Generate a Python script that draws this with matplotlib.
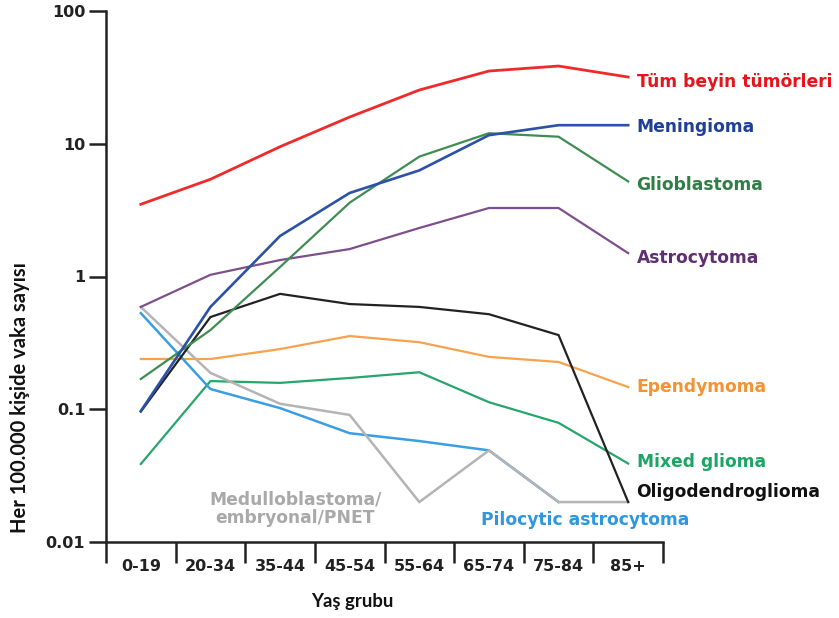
import numpy as np
import matplotlib
matplotlib.use("Agg")
import matplotlib.pyplot as plt
from matplotlib.ticker import FixedLocator, NullFormatter

age_groups = ["0-19", "20-34", "35-44", "45-54", "55-64", "65-74", "75-84", "85+"]

all_brain = [3.5, 5.4, 9.5, 15.9, 25.4, 35.3, 38.5, 31.8]
meningioma = [0.097, 0.59, 2.02, 4.26, 6.3, 11.6, 13.8, 13.8]
glioblastoma = [0.169, 0.395, 1.18, 3.6, 8.0, 12.0, 11.3, 5.2]
astrocytoma = [0.59, 1.03, 1.33, 1.61, 2.32, 3.28, 3.28, 1.50]
oligodendroglioma = [0.096, 0.495, 0.74, 0.62, 0.59, 0.52, 0.362, 0.02]
ependymoma = [0.239, 0.239, 0.284, 0.356, 0.32, 0.248, 0.227, 0.147]
mixed_glioma = [0.0387, 0.163, 0.158, 0.172, 0.19, 0.113, 0.079, 0.039]
pilocytic = [0.53, 0.142, 0.102, 0.066, 0.0576, 0.049, 0.02, np.nan]
medulloblastoma = [0.59, 0.188, 0.11, 0.0906, 0.02, 0.049, 0.02, 0.02]

# drawing order: back to front
series = [
    (ependymoma, "#f7a24c", 1.6),
    (mixed_glioma, "#27a56c", 1.6),
    (pilocytic, "#3b9ee2", 1.8),
    (medulloblastoma, "#b4b4b4", 1.8),
    (oligodendroglioma, "#222222", 1.6),
    (astrocytoma, "#7d4f8c", 1.6),
    (glioblastoma, "#3f8d52", 1.6),
    (meningioma, "#2c51a8", 1.9),
    (all_brain, "#f02a2a", 2.0),
]

# series names placed to the right of the line ends
labels = [
    ("Tüm beyin tümörleri", "#e8141c", 29.2),
    ("Meningioma", "#1f3f99", 13.4),
    ("Glioblastoma", "#2f7e44", 4.89),
    ("Astrocytoma", "#5e2f72", 1.38),
    ("Ependymoma", "#f59231", 0.147),
    ("Mixed glioma", "#1ea565", 0.040),
    ("Oligodendroglioma", "#111111", 0.0238),
]
label_x = 7.62

fig = plt.figure(figsize=(8.39, 6.18), dpi=100)
ax = fig.add_axes([106 / 839, 76 / 618, 557 / 839, 531 / 618])

x = np.arange(len(age_groups)) + 0.5
for vals, col, lw in series:
    ax.plot(x, vals, color=col, lw=lw, solid_joinstyle="miter", zorder=3)

ax.set_yscale("log")
ax.set_ylim(0.01, 100)
ax.set_xlim(0, 8)

ax.yaxis.set_major_locator(FixedLocator([0.01, 0.1, 1, 10, 100]))
ax.yaxis.set_minor_locator(FixedLocator([]))
ax.set_yticklabels(["0.01", "0.1", "1", "10", "100"])
ax.tick_params(axis="y", which="major", length=12, width=1.8, labelsize=11.5,
               pad=3, colors="#222222")

ax.xaxis.set_major_locator(FixedLocator(np.arange(0, 9)))
ax.xaxis.set_major_formatter(NullFormatter())
ax.xaxis.set_minor_locator(FixedLocator(x))
ax.set_xticklabels(age_groups, minor=True)
ax.tick_params(axis="x", which="major", length=15, width=1.8, colors="#222222")
ax.tick_params(axis="x", which="minor", length=0, labelsize=11.5, pad=12,
               colors="#222222")
for t in ax.get_yticklabels() + ax.get_xticklabels(minor=True):
    t.set_fontweight("bold")

for side in ("top", "right"):
    ax.spines[side].set_visible(False)
for side in ("left", "bottom"):
    ax.spines[side].set_linewidth(1.8)
    ax.spines[side].set_color("#222222")

for text, col, yl in labels:
    ax.text(label_x, yl, text, color=col, fontsize=12.3, fontweight="bold",
            ha="left", va="center", clip_on=False)

ax.text(5.39, 0.01466, "Pilocytic astrocytoma", color="#2f97e0", fontsize=12.3,
        fontweight="bold", ha="left", va="center")
ax.text(2.72, 0.01774, "Medulloblastoma/\nembryonal/PNET", color="#a9a9a9",
        fontsize=12.3, fontweight="bold", ha="center", va="center",
        linespacing=1.0)

fig.text(20 / 839, 1 - 398 / 618, "Her 100.000 kişide vaka sayısı",
         rotation=90, ha="center", va="center", fontsize=14.5,
         fontweight="bold", family="Lato", color="#111111")
fig.text(352 / 839, 1 - 601 / 618, "Yaş grubu", ha="center", va="center",
         fontsize=13.3, fontweight="bold", family="Lato", color="#111111")

fig.savefig("out.png", dpi=100)
